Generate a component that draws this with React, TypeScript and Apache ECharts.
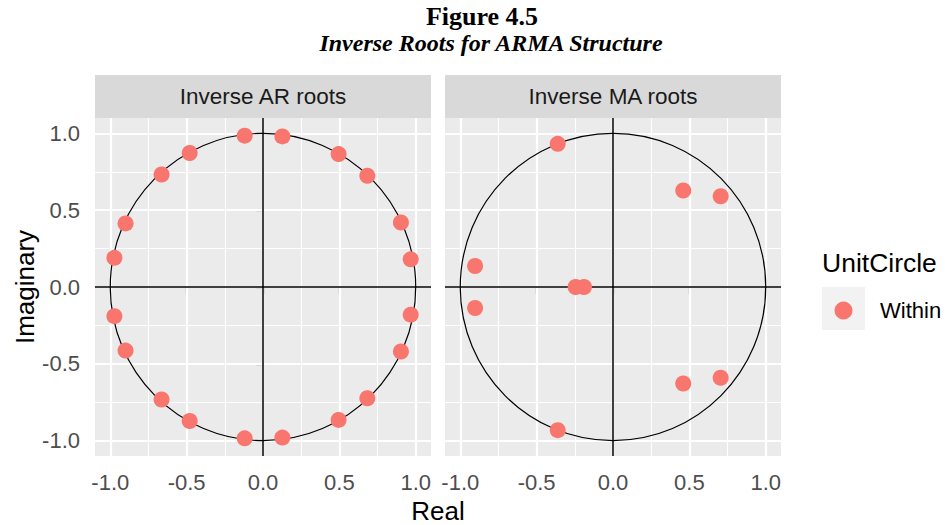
import React, { useEffect, useRef } from "react";
import * as echarts from "echarts";

const figureTitle = "Figure 4.5";
const figureSubtitle = "Inverse Roots for ARMA Structure";
const facetTitles = ["Inverse AR roots", "Inverse MA roots"];
const xTitle = "Real";
const yTitle = "Imaginary";
const legendTitle = "UnitCircle";
const legendLabel = "Within";

const tickValues = [-1, -0.5, 0, 0.5, 1];
const majorGrid = [-1, -0.5, 0, 0.5, 1];
const minorGrid = [-0.75, -0.25, 0.25, 0.75];
const zeroLines = [0];

// inverse AR roots
const arReal = [-0.12, 0.127, -0.48, 0.495, -0.664, 0.683, -0.9, 0.903, -0.973, 0.967,
  -0.973, 0.967, -0.9, 0.903, -0.664, 0.683, -0.48, 0.495, -0.12, 0.127];
const arImag = [0.985, 0.98, 0.872, 0.865, 0.732, 0.724, 0.414, 0.42, 0.19, 0.18,
  -0.19, -0.18, -0.414, -0.42, -0.732, -0.724, -0.872, -0.865, -0.985, -0.98];

// inverse MA roots
const maReal = [-0.362, 0.46, 0.705, -0.903, -0.245, -0.19, -0.903, -0.362, 0.46, 0.705];
const maImag = [0.932, 0.628, 0.591, 0.137, 0, 0, -0.137, -0.932, -0.628, -0.591];

// unit circle: centre x, centre y, radius
const unitCircle = [[0, 0, 1]];

const FONT = "Liberation Sans";

export default function App() {
  const ref = useRef<HTMLDivElement>(null);

  useEffect(() => {
    document.body.style.margin = "0";
    if (!ref.current) return;
    const chart = echarts.init(ref.current, null, { renderer: "svg" });

    const grids = [
      { left: 95, top: 118, width: 336, height: 338 },
      { left: 445, top: 118, width: 336, height: 338 },
    ];
    const facets = [
      { re: arReal, im: arImag },
      { re: maReal, im: maImag },
    ];

    const gridLineData = [
      ...majorGrid.map((v) => ({ xAxis: v, lineStyle: { width: 2.2 } })),
      ...minorGrid.map((v) => ({ xAxis: v, lineStyle: { width: 1.1 } })),
      ...majorGrid.map((v) => ({ yAxis: v, lineStyle: { width: 2.2 } })),
      ...minorGrid.map((v) => ({ yAxis: v, lineStyle: { width: 1.1 } })),
    ];

    const series: any[] = [];
    facets.forEach((f, i) => {
      series.push({
        type: "custom",
        xAxisIndex: i,
        yAxisIndex: i,
        z: 2,
        silent: true,
        encode: { x: 0, y: 1 },
        data: unitCircle,
        renderItem: (params: any, api: any) => {
          const c = api.coord([api.value(0), api.value(1)]);
          const s = api.size([api.value(2), api.value(2)]);
          return {
            type: "ellipse",
            shape: { cx: c[0], cy: c[1], rx: s[0], ry: s[1] },
            style: { fill: "none", stroke: "#000", lineWidth: 1.2 },
          };
        },
        markLine: {
          z: 1,
          silent: true,
          symbol: "none",
          label: { show: false },
          emphasis: { disabled: true },
          lineStyle: { color: "#FFFFFF", type: "solid" },
          data: gridLineData,
        },
      });
      series.push({
        type: "scatter",
        name: legendLabel,
        xAxisIndex: i,
        yAxisIndex: i,
        z: 4,
        symbol: "circle",
        symbolSize: 16,
        itemStyle: { color: "#F8766D", opacity: 1 },
        data: f.re.map((x, k) => [x, f.im[k]]),
        markLine: {
          z: 3,
          silent: true,
          symbol: "none",
          label: { show: false },
          emphasis: { disabled: true },
          lineStyle: { color: "#000", width: 1.5, type: "solid" },
          data: [
            ...zeroLines.map((v) => ({ xAxis: v })),
            ...zeroLines.map((v) => ({ yAxis: v })),
          ],
        },
      });
    });

    const axisBase = (i: number, showLabels: boolean) => ({
      type: "value",
      gridIndex: i,
      min: -1.1,
      max: 1.1,
      axisLine: { show: false },
      splitLine: { show: false },
      axisTick: {
        show: showLabels,
        customValues: tickValues,
        length: 7,
        lineStyle: { color: "#333333", width: 1.2 },
      },
      axisLabel: {
        show: showLabels,
        customValues: tickValues,
        formatter: (v: number) => v.toFixed(1),
        margin: 15,
        fontSize: 22,
        color: "#4D4D4D",
        fontFamily: FONT,
      },
    });

    const option: any = {
      animation: false,
      backgroundColor: "#FFFFFF",
      textStyle: { fontFamily: FONT },
      title: [
        {
          text: figureTitle,
          left: 482,
          top: 3,
          padding: 0,
          textAlign: "center",
          textStyle: {
            fontFamily: "Liberation Serif",
            fontWeight: "bold",
            fontSize: 26,
            color: "#000",
          },
        },
        {
          text: figureSubtitle,
          left: 491,
          top: 31,
          padding: 0,
          textAlign: "center",
          textStyle: {
            fontFamily: "Liberation Serif",
            fontWeight: "bold",
            fontStyle: "italic",
            fontSize: 24,
            color: "#000",
          },
        },
      ],
      grid: grids.map((g) => ({
        ...g,
        show: true,
        backgroundColor: "#EBEBEB",
        borderWidth: 0,
      })),
      xAxis: [axisBase(0, true), axisBase(1, true)],
      yAxis: [axisBase(0, true), axisBase(1, false)],
      legend: {
        data: [legendLabel],
        left: 834.5,
        top: 299.5,
        padding: 0,
        orient: "vertical",
        icon: "circle",
        itemWidth: 43,
        itemHeight: 18,
        selectedMode: false,
        formatter: (name: string) => `{gap| }${name}`,
        textStyle: {
          fontSize: 22,
          color: "#000",
          fontFamily: FONT,
          rich: { gap: { width: 10, fontSize: 22 } },
        },
      },
      graphic: [
        ...grids.map((g, i) => ({
          type: "group",
          children: [
            {
              type: "rect",
              shape: { x: g.left, y: 75, width: g.width, height: 43 },
              style: { fill: "#D9D9D9" },
            },
            {
              type: "text",
              x: g.left + g.width / 2,
              y: 96.5,
              style: {
                text: facetTitles[i],
                textAlign: "center",
                textVerticalAlign: "middle",
                fontSize: 22.5,
                fontFamily: FONT,
                fill: "#1A1A1A",
              },
            },
          ],
        })),
        {
          type: "text",
          x: 438,
          y: 511,
          style: {
            text: xTitle,
            textAlign: "center",
            textVerticalAlign: "middle",
            fontSize: 26,
            fontFamily: FONT,
            fill: "#000",
          },
        },
        {
          type: "text",
          x: 25,
          y: 287,
          rotation: Math.PI / 2,
          style: {
            text: yTitle,
            textAlign: "center",
            textVerticalAlign: "middle",
            fontSize: 26,
            fontFamily: FONT,
            fill: "#000",
          },
        },
        {
          type: "text",
          x: 822,
          y: 263,
          style: {
            text: legendTitle,
            textAlign: "left",
            textVerticalAlign: "middle",
            fontSize: 26.5,
            fontFamily: FONT,
            fill: "#000",
          },
        },
        {
          type: "rect",
          z: -1,
          shape: { x: 822, y: 287, width: 43, height: 43 },
          style: { fill: "#F2F2F2" },
        },
      ],
      series,
    };

    chart.setOption(option);
    return () => chart.dispose();
  }, []);

  return <div ref={ref} style={{ width: 945, height: 525 }} />;
}
